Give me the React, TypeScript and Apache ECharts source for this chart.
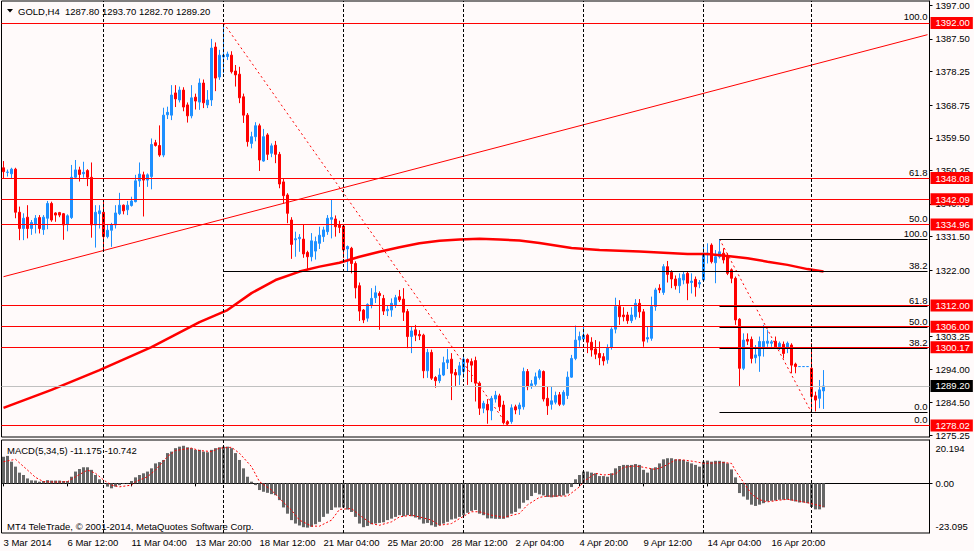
import React, { useEffect, useRef } from "react";
import * as echarts from "echarts";

const FONT = '"Liberation Sans", Arial, sans-serif';

// number of bar slots visible on the chart (including the empty right shift)
const SLOT_COUNT = 232;

// H4 candles: [open, close, low, high]
const candles: number[][] = [
  [1351.0, 1349.9, 1348.0, 1352.9], [1349.7, 1349.8, 1348.5, 1350.5], [1349.3, 1350.6, 1348.0, 1351.0], [1350.6, 1338.4, 1336.7, 1351.0],
  [1338.4, 1333.8, 1330.5, 1340.0], [1333.8, 1336.7, 1330.5, 1338.1], [1337.0, 1333.8, 1331.0, 1340.4], [1333.8, 1335.5, 1332.0, 1336.2],
  [1335.0, 1336.7, 1332.4, 1337.6], [1336.9, 1333.8, 1332.4, 1337.6], [1333.5, 1337.0, 1332.0, 1337.6], [1336.7, 1340.9, 1333.6, 1341.6],
  [1340.9, 1336.2, 1335.7, 1341.4], [1338.2, 1337.6, 1335.7, 1338.4], [1338.3, 1337.6, 1337.0, 1338.5], [1338.0, 1334.8, 1330.6, 1338.2],
  [1335.0, 1337.4, 1333.0, 1337.8], [1336.9, 1348.3, 1336.5, 1351.8], [1348.3, 1350.4, 1348.0, 1353.2], [1350.4, 1349.1, 1347.1, 1351.3],
  [1349.3, 1349.7, 1348.2, 1352.7], [1350.2, 1348.3, 1345.8, 1350.6], [1348.3, 1334.8, 1331.2, 1352.5], [1334.8, 1338.4, 1328.4, 1340.4],
  [1338.0, 1338.8, 1333.8, 1340.4], [1338.4, 1331.5, 1327.7, 1341.6], [1331.5, 1333.3, 1331.0, 1334.8], [1333.3, 1334.8, 1328.6, 1335.4],
  [1334.8, 1338.2, 1333.8, 1340.4], [1338.0, 1340.4, 1337.6, 1343.9], [1340.4, 1338.8, 1337.8, 1340.6], [1339.1, 1340.4, 1337.6, 1341.6],
  [1340.3, 1341.6, 1340.0, 1342.8], [1341.4, 1347.3, 1341.2, 1349.0], [1347.3, 1349.2, 1345.6, 1352.5], [1349.0, 1347.5, 1337.2, 1349.9],
  [1347.5, 1349.0, 1345.6, 1349.4], [1348.5, 1357.6, 1344.9, 1359.3], [1358.1, 1357.3, 1357.0, 1358.9], [1357.3, 1354.6, 1354.1, 1363.0],
  [1354.6, 1365.9, 1354.0, 1368.0], [1366.0, 1366.7, 1364.8, 1368.3], [1365.9, 1371.6, 1364.5, 1374.4], [1372.2, 1370.5, 1368.2, 1374.4],
  [1370.2, 1373.0, 1369.5, 1374.0], [1373.0, 1368.2, 1367.0, 1373.8], [1368.8, 1365.7, 1363.8, 1369.5], [1365.7, 1370.8, 1365.0, 1374.4],
  [1371.0, 1369.9, 1367.5, 1372.0], [1369.6, 1375.0, 1367.4, 1376.3], [1375.0, 1369.4, 1367.9, 1376.0], [1368.8, 1370.2, 1367.9, 1373.0],
  [1370.2, 1384.9, 1368.5, 1387.5], [1385.2, 1376.4, 1372.7, 1386.5], [1376.7, 1382.9, 1375.9, 1384.4], [1382.4, 1382.9, 1377.8, 1392.0],
  [1382.5, 1383.2, 1381.5, 1383.9], [1382.9, 1378.2, 1377.7, 1384.0], [1378.4, 1377.3, 1374.0, 1380.1], [1377.5, 1370.8, 1369.3, 1379.6],
  [1371.1, 1365.9, 1363.7, 1372.0], [1365.9, 1358.4, 1357.0, 1366.5], [1357.9, 1359.8, 1356.5, 1361.2], [1359.8, 1362.9, 1358.5, 1363.9],
  [1362.9, 1353.2, 1350.1, 1363.5], [1352.9, 1359.8, 1352.7, 1362.0], [1360.3, 1354.8, 1353.2, 1360.8], [1355.1, 1357.2, 1354.0, 1357.9],
  [1357.4, 1354.8, 1352.3, 1358.6], [1354.8, 1346.4, 1345.2, 1355.5], [1347.0, 1343.1, 1340.9, 1347.8], [1343.3, 1338.1, 1335.3, 1343.8],
  [1336.2, 1329.3, 1325.2, 1337.0], [1330.6, 1330.9, 1325.8, 1332.9], [1330.9, 1331.3, 1327.2, 1332.2], [1330.8, 1326.6, 1325.5, 1335.0],
  [1327.0, 1325.8, 1322.0, 1327.5], [1325.8, 1330.3, 1324.5, 1332.5], [1327.4, 1330.1, 1325.0, 1331.5], [1329.6, 1331.9, 1328.0, 1334.3],
  [1331.5, 1333.4, 1330.0, 1334.3], [1332.9, 1336.7, 1332.0, 1337.6], [1336.4, 1336.9, 1331.0, 1342.1], [1336.5, 1334.3, 1331.5, 1337.5],
  [1334.8, 1334.1, 1332.5, 1336.0], [1334.5, 1327.7, 1325.4, 1335.0], [1328.0, 1328.7, 1321.6, 1329.0], [1328.2, 1323.9, 1321.1, 1328.6],
  [1323.9, 1317.0, 1314.0, 1324.5], [1317.6, 1310.4, 1307.6, 1318.5], [1310.7, 1307.9, 1307.0, 1311.0], [1308.4, 1312.3, 1307.4, 1312.6],
  [1312.1, 1314.0, 1311.2, 1316.9], [1314.2, 1315.6, 1312.7, 1317.6], [1315.4, 1314.8, 1305.1, 1316.0], [1314.0, 1310.4, 1309.3, 1315.0],
  [1310.5, 1310.9, 1309.0, 1312.0], [1310.7, 1312.6, 1308.8, 1314.0], [1312.1, 1314.2, 1311.3, 1315.0], [1314.5, 1313.6, 1313.0, 1316.4],
  [1313.8, 1310.1, 1307.6, 1316.9], [1310.3, 1303.2, 1299.9, 1311.0], [1303.2, 1304.8, 1298.5, 1306.0], [1305.1, 1303.6, 1301.9, 1306.5],
  [1303.8, 1303.4, 1302.2, 1305.0], [1303.6, 1293.5, 1291.4, 1304.0], [1293.5, 1298.7, 1291.5, 1299.7], [1298.7, 1291.4, 1290.9, 1299.5],
  [1291.6, 1290.7, 1288.7, 1292.0], [1290.7, 1292.3, 1290.0, 1294.2], [1292.3, 1295.8, 1292.0, 1297.5], [1295.8, 1296.6, 1294.0, 1299.7],
  [1296.8, 1292.8, 1285.2, 1298.5], [1293.0, 1292.3, 1289.2, 1294.0], [1292.3, 1294.9, 1289.5, 1296.0], [1293.3, 1296.8, 1291.5, 1298.2],
  [1296.7, 1295.9, 1289.5, 1297.0], [1296.1, 1295.1, 1290.3, 1297.0], [1296.4, 1290.0, 1284.8, 1297.5], [1290.0, 1282.9, 1281.0, 1290.5],
  [1282.9, 1284.3, 1281.5, 1285.0], [1284.0, 1282.4, 1278.5, 1285.5], [1282.2, 1285.7, 1279.5, 1286.4], [1285.5, 1286.6, 1284.5, 1287.8],
  [1286.4, 1283.3, 1282.1, 1287.0], [1283.8, 1278.8, 1278.3, 1285.0], [1279.1, 1278.5, 1278.02, 1279.5], [1279.1, 1283.0, 1278.5, 1284.0],
  [1283.3, 1282.4, 1281.2, 1283.9], [1282.7, 1283.8, 1281.0, 1284.5], [1283.3, 1293.3, 1282.5, 1294.4], [1293.3, 1289.0, 1288.0, 1294.0],
  [1289.3, 1289.8, 1288.4, 1290.9], [1289.7, 1291.8, 1289.0, 1293.0], [1291.6, 1293.5, 1291.0, 1294.0], [1293.3, 1285.5, 1284.8, 1293.6],
  [1285.7, 1283.6, 1281.0, 1289.0], [1284.0, 1285.0, 1282.5, 1289.0], [1284.6, 1286.5, 1284.0, 1287.6], [1286.7, 1284.0, 1283.5, 1287.5],
  [1284.0, 1287.4, 1283.6, 1288.0], [1286.5, 1291.7, 1285.5, 1293.3], [1291.7, 1297.0, 1291.5, 1298.0], [1297.0, 1302.2, 1296.5, 1306.3],
  [1302.2, 1303.2, 1300.3, 1304.6], [1302.5, 1303.6, 1301.8, 1306.0], [1303.6, 1301.6, 1298.5, 1304.0], [1301.6, 1299.4, 1297.5, 1303.0],
  [1299.7, 1298.2, 1296.8, 1302.2], [1298.4, 1297.2, 1295.1, 1301.8], [1297.5, 1296.3, 1295.0, 1298.5], [1296.6, 1300.1, 1295.5, 1301.0],
  [1300.1, 1305.3, 1299.5, 1305.8], [1305.3, 1311.7, 1304.1, 1314.2], [1311.7, 1308.8, 1306.5, 1313.5], [1309.3, 1308.8, 1307.5, 1311.5],
  [1309.3, 1307.7, 1306.8, 1310.2], [1307.7, 1309.3, 1307.0, 1311.5], [1308.8, 1312.6, 1308.0, 1313.8], [1312.6, 1310.2, 1308.5, 1313.8],
  [1310.2, 1301.9, 1300.3, 1311.0], [1302.5, 1302.9, 1301.5, 1306.0], [1302.7, 1311.7, 1302.0, 1314.5], [1311.7, 1316.4, 1310.5, 1317.0],
  [1316.9, 1316.4, 1315.5, 1318.0], [1315.7, 1323.0, 1315.0, 1323.7], [1323.0, 1320.8, 1318.5, 1324.6], [1321.4, 1319.5, 1316.9, 1322.0],
  [1319.5, 1317.6, 1316.5, 1320.5], [1317.6, 1319.7, 1315.5, 1321.1], [1319.2, 1320.8, 1318.0, 1321.5], [1321.1, 1318.3, 1313.5, 1321.6],
  [1318.5, 1318.9, 1315.4, 1321.1], [1319.4, 1317.3, 1314.5, 1320.2], [1318.1, 1318.5, 1316.9, 1319.2], [1319.2, 1326.8, 1318.7, 1329.1],
  [1326.3, 1326.8, 1323.9, 1329.6], [1329.1, 1324.4, 1323.9, 1329.6], [1324.1, 1325.8, 1318.3, 1327.7], [1325.8, 1327.2, 1325.3, 1330.8],
  [1326.8, 1324.9, 1323.9, 1328.2], [1325.8, 1321.1, 1320.6, 1326.8], [1322.1, 1319.7, 1318.3, 1322.5], [1319.7, 1307.9, 1306.5, 1320.2],
  [1308.1, 1294.2, 1289.2, 1308.4], [1294.2, 1302.2, 1293.7, 1304.1], [1302.4, 1301.9, 1300.8, 1304.1], [1302.4, 1297.0, 1295.6, 1303.2],
  [1297.2, 1298.0, 1295.6, 1300.8], [1297.7, 1301.8, 1293.2, 1303.2], [1300.3, 1301.8, 1297.5, 1306.5], [1301.3, 1301.9, 1300.3, 1305.1],
  [1301.3, 1301.7, 1300.3, 1302.2], [1301.9, 1300.3, 1299.9, 1303.2], [1300.3, 1301.3, 1299.4, 1301.8], [1301.0, 1298.4, 1297.0, 1301.8],
  [1299.9, 1301.3, 1298.5, 1301.8], [1300.8, 1295.1, 1292.8, 1301.3], [1295.4, 1294.7, 1292.8, 1295.8], [1294.7, 1294.7, 1294.7, 1294.7],
  [1294.7, 1294.7, 1294.7, 1294.7], [1294.7, 1294.7, 1294.7, 1294.7], [1294.2, 1286.2, 1281.7, 1301.3], [1286.4, 1285.2, 1282.0, 1287.6],
  [1285.7, 1288.1, 1282.9, 1290.9], [1287.8, 1289.2, 1282.7, 1293.7],
];

// moving average, read at points: [bar index, price]
const maPoints: number[][] = [
  [0, 1283.0], [12, 1288.1], [24, 1293.7], [37, 1300.2], [49, 1307.3], [56, 1310.7], [62, 1315.5], [68, 1319.2],
  [74, 1321.6], [79, 1323.0], [84, 1324.1], [89, 1325.8], [94, 1327.2], [99, 1328.5], [104, 1329.6], [109, 1330.3],
  [114, 1330.7], [119, 1330.9], [124, 1330.7], [129, 1330.4], [134, 1329.7], [142, 1328.3], [149, 1327.7], [159, 1327.3],
  [171, 1326.6], [176, 1326.6], [181, 1326.0], [186, 1325.4], [191, 1324.4], [196, 1323.5], [201, 1322.3], [205, 1321.6],
];

// MACD(5,34,5) histogram per bar
const macdHist: number[] = [
  12.4, 12.8, 10.1, 7.8, 5.0, 3.9, 2.3, 1.4, 1.3, 0.8,
  1.1, 1.5, 1.3, 1.3, 1.3, 1.1, 1.1, 3.1, 5.5, 6.7,
  7.5, 7.5, 6.3, 3.9, 1.9, -0.3, -1.5, -2.3, -1.5, -0.8,
  -0.3, 0.2, 1.1, 2.8, 3.9, 4.7, 5.5, 7.0, 9.3, 9.9,
  10.9, 14.1, 14.8, 16.4, 17.1, 17.5, 16.8, 16.4, 15.6, 15.6,
  14.8, 14.5, 15.6, 16.4, 16.8, 17.1, 17.1, 16.4, 14.1, 10.9,
  7.0, 3.1, 0.8, -0.8, -3.1, -3.9, -4.4, -5.0, -5.5, -7.8,
  -11.2, -14.1, -17.1, -18.7, -19.6, -20.4, -20.6, -20.2, -19.0, -17.9,
  -15.6, -14.1, -12.4, -11.2, -11.2, -11.2, -12.2, -13.3, -15.6, -18.7,
  -20.4, -19.8, -19.0, -18.7, -18.4, -18.1, -17.1, -16.4, -15.6, -14.8,
  -15.3, -14.8, -15.3, -15.9, -16.8, -18.7, -18.4, -19.5, -20.2, -19.5,
  -18.7, -17.9, -16.8, -16.4, -15.6, -14.8, -13.7, -12.8, -12.4, -14.1,
  -14.8, -16.3, -16.3, -16.5, -16.5, -16.5, -15.9, -14.1, -13.3, -11.7,
  -9.0, -7.8, -5.9, -4.4, -5.1, -5.6, -6.3, -6.5, -6.3, -5.9,
  -5.6, -4.7, -1.7, 1.9, 3.9, 5.5, 5.5, 5.0, 4.7, 3.4,
  3.4, 3.1, 4.7, 7.0, 8.1, 8.6, 8.6, 8.6, 9.0, 8.6,
  6.3, 5.0, 7.0, 7.5, 9.3, 11.2, 11.7, 11.7, 11.2, 11.2,
  10.9, 10.1, 9.3, 8.6, 7.8, 10.1, 10.6, 10.1, 10.5, 10.5,
  10.1, 9.3, 6.5, 2.8, -4.5, -6.1, -7.6, -9.9, -10.5, -9.9,
  -9.2, -8.4, -8.1, -8.0, -7.6, -7.6, -7.6, -8.0, -8.4, -8.9,
  -8.9, -9.2, -11.0, -12.1, -12.1, -11.175,
];

// MACD signal line, read at points: [bar index, value]
const macdSignal: number[][] = [
  [0, 10.1], [3, 11.2], [6, 6.2], [8, 2.8], [10, 0.8], [13, 0.6], [16, 0.8], [18, 3.1], [21, 6.2], [23, 4.7],
  [25, 1.6], [27, -0.8], [29, -1.6], [32, -0.8], [33, 0.8], [36, 3.1], [38, 6.2], [41, 12.5], [43, 15.3], [47, 16.4],
  [49, 15.3], [52, 14.8], [54, 16.4], [57, 16.8], [59, 14.0], [62, 7.8], [64, 0.8], [67, -3.1], [69, -7.0], [72, -12.5],
  [74, -17.1], [77, -19.9], [79, -19.9], [82, -17.1], [84, -12.1], [87, -11.7], [89, -14.8], [92, -18.7], [94, -19.5], [97, -17.9],
  [99, -15.6], [102, -14.8], [104, -15.6], [107, -17.1], [109, -19.5], [112, -18.7], [114, -16.4], [117, -13.2], [119, -13.2], [122, -14.8],
  [125, -15.8], [129, -14.0], [131, -10.0], [134, -6.5], [136, -5.9], [141, -5.9], [144, -1.6], [145, 0.8], [148, 4.7], [150, 3.9],
  [153, 4.4], [155, 7.5], [158, 8.1], [160, 7.5], [163, 6.5], [165, 7.8], [168, 10.9], [170, 10.9], [173, 10.1], [175, 9.3],
  [178, 9.5], [180, 9.7], [182, 9.3], [183, 5.9], [185, 0.5], [187, -5.0], [189, -7.6], [191, -8.6], [194, -7.8], [196, -7.4],
  [199, -8.3], [201, -9.0], [203, -9.9], [205, -10.742],
];

// rising trend line: [bar index, price]
const trendLine: number[][] = [[0, 1320.15], [231, 1388.69]];

// Fibonacci retracements: anchors [bar index, price] and levels
const fib1Anchor: number[][] = [[55, 1392.0], [126, 1278.02]];
const fib1Levels = [
  { pct: "100.0", price: 1392.0 },
  { pct: "61.8", price: 1348.08 },
  { pct: "50.0", price: 1334.96 },
  { pct: "38.2", price: 1321.56 },
  { pct: "0.0", price: 1278.02 },
];
const fib2Anchor: number[][] = [[179, 1330.8], [202, 1281.7]];
const fib2Levels = [
  { pct: "100.0", price: 1330.8 },
  { pct: "61.8", price: 1311.75 },
  { pct: "50.0", price: 1305.75 },
  { pct: "38.2", price: 1299.9 },
  { pct: "0.0", price: 1281.7 },
];

// horizontal red lines and the bid line
const redLevels: number[] = [1392.0, 1348.08, 1342.09, 1334.96, 1312.0, 1306.0, 1300.17, 1278.02];
const bidPrice = 1289.2;

// week-start vertical grid lines (bar index)
const weekStarts: number[] = [25, 55, 85, 115, 145, 175, 202];

// time axis labels: [bar index, text]
const timeTicks: [number, string][] = [
  [0, "3 Mar 2014"], [16, "6 Mar 12:00"], [32, "11 Mar 04:00"], [48, "13 Mar 20:00"], [64, "18 Mar 12:00"],
  [80, "21 Mar 04:00"], [96, "25 Mar 20:00"], [112, "28 Mar 12:00"], [128, "2 Apr 04:00"], [144, "4 Apr 20:00"],
  [160, "9 Apr 12:00"], [176, "14 Apr 04:00"], [192, "16 Apr 20:00"],
];

// price axis tick labels (1312.75 is fully hidden by the 1312.00 box in the reference)
const priceTicks: number[] = [1397.0, 1387.5, 1378.25, 1368.75, 1359.5, 1350.25, 1340.75, 1331.5, 1322.0, 1303.25, 1294.0, 1284.5, 1275.25];
const priceMin = 1274.75;
const priceMax = 1398.23;

// MACD axis tick labels (top = max, bottom = min)
const macdTicks: number[] = [20.194, 0, -23.095];

export default function App() {
  const ref = useRef<HTMLDivElement>(null);

  useEffect(() => {
    document.body.style.margin = "0";
    if (!ref.current) return;
    const chart = echarts.init(ref.current, undefined, { renderer: "svg" });

    const cats = Array.from({ length: SLOT_COUNT }, (_, i) => String(i));
    const lastSlot = SLOT_COUNT - 1;
    const tickMap = new Map<number, string>(timeTicks);
    const last = candles[candles.length - 1];
    const fs = 9.5;

    const fibMarkLine = (anchor: number[][], levels: { pct: string; price: number }[]) => ({
      silent: true,
      symbol: ["none", "none"],
      animation: false,
      data: levels.map((l) => [
        {
          coord: [anchor[0][0], l.price],
          lineStyle: { color: "#000", width: 1, type: "solid" },
          label: {
            show: true,
            position: "insideEndTop",
            formatter: l.pct,
            color: "#000",
            fontSize: fs,
            fontFamily: FONT,
            distance: [0, 1],
          },
        },
        { coord: [lastSlot, l.price] },
      ]),
    });

    const weekMarkLine = {
      silent: true,
      symbol: ["none", "none"],
      animation: false,
      label: { show: false },
      lineStyle: { color: "#000", width: 1, type: [3, 2] },
      data: weekStarts.map((i) => ({ xAxis: i })),
    };

    const redLabel = {
      show: true,
      position: "end",
      distance: 1,
      color: "#fff",
      backgroundColor: "#ff0000",
      padding: [1, 3, 0, 5],
      lineHeight: 11,
      fontSize: fs,
      fontFamily: FONT,
    };

    const gridRight = 44.5;

    const option: any = {
      animation: false,
      backgroundColor: "#fffafa",
      textStyle: { fontFamily: FONT },
      grid: [
        { left: 1.5, right: gridRight, top: 1, height: 436, show: true, borderColor: "#000", borderWidth: 1, backgroundColor: "#fffafa" },
        { left: 1.5, right: gridRight, top: 440, height: 93, show: true, borderColor: "#000", borderWidth: 1, backgroundColor: "#fffafa" },
      ],
      xAxis: [
        {
          type: "category",
          gridIndex: 0,
          data: cats,
          boundaryGap: true,
          axisLine: { show: false },
          axisTick: { show: false },
          axisLabel: { show: false },
          splitLine: { show: false },
        },
        {
          type: "category",
          gridIndex: 1,
          data: cats,
          boundaryGap: true,
          axisLine: { show: true, lineStyle: { color: "#000", width: 1 } },
          axisTick: {
            show: true,
            alignWithLabel: true,
            length: 3,
            interval: (i: number) => tickMap.has(i),
            lineStyle: { color: "#000" },
          },
          axisLabel: {
            interval: (i: number) => tickMap.has(i),
            formatter: (v: string) => tickMap.get(Number(v)) ?? "",
            align: "left",
            margin: 4,
            fontSize: fs,
            color: "#000",
            fontFamily: FONT,
          },
          splitLine: { show: false },
        },
      ],
      yAxis: [
        {
          type: "value",
          gridIndex: 0,
          position: "right",
          min: priceMin,
          max: priceMax,
          splitLine: { show: false },
          axisLine: { show: true, lineStyle: { color: "#000" } },
          axisTick: { show: true, length: 3, customValues: priceTicks, lineStyle: { color: "#000" } },
          axisLabel: {
            customValues: priceTicks,
            formatter: (v: number) => v.toFixed(2),
            margin: 6,
            fontSize: fs,
            color: "#000",
            fontFamily: FONT,
          },
        },
        {
          type: "value",
          gridIndex: 1,
          position: "right",
          min: macdTicks[2],
          max: macdTicks[0],
          splitLine: { show: false },
          axisLine: { show: true, lineStyle: { color: "#000" } },
          axisTick: { show: true, length: 3, customValues: [macdTicks[1]], lineStyle: { color: "#000" } },
          axisLabel: {
            customValues: macdTicks,
            formatter: (v: number) =>
              v === macdTicks[0] ? `{t|${v.toFixed(3)}}` : v === macdTicks[2] ? `{b|${v.toFixed(3)}}` : `{m|${v.toFixed(2)}}`,
            margin: 6,
            fontSize: fs,
            color: "#000",
            fontFamily: FONT,
            rich: {
              t: { padding: [16, 0, 0, 0], fontSize: fs, fontFamily: FONT, color: "#000" },
              b: { padding: [0, 0, 14, 0], fontSize: fs, fontFamily: FONT, color: "#000" },
              m: { fontSize: fs, fontFamily: FONT, color: "#000" },
            },
          },
        },
      ],
      series: [
        {
          name: "weeks",
          type: "line",
          xAxisIndex: 0,
          yAxisIndex: 0,
          data: [[0, bidPrice]],
          symbol: "none",
          lineStyle: { opacity: 0 },
          silent: true,
          z: 1,
          markLine: weekMarkLine,
        },
        {
          name: "fib1",
          type: "line",
          xAxisIndex: 0,
          yAxisIndex: 0,
          data: fib1Anchor,
          symbol: "none",
          silent: true,
          lineStyle: { color: "#ff0000", width: 1, type: [2, 3] },
          z: 1,
          markLine: fibMarkLine(fib1Anchor, fib1Levels),
        },
        {
          name: "fib2",
          type: "line",
          xAxisIndex: 0,
          yAxisIndex: 0,
          data: fib2Anchor,
          symbol: "none",
          silent: true,
          lineStyle: { color: "#ff0000", width: 1, type: [2, 3] },
          z: 1,
          markLine: fibMarkLine(fib2Anchor, fib2Levels),
        },
        {
          name: "GOLD",
          type: "candlestick",
          xAxisIndex: 0,
          yAxisIndex: 0,
          data: candles,
          barWidth: 2,
          z: 2,
          itemStyle: {
            color: "#1e90ff",
            color0: "#ff0000",
            borderColor: "#1e90ff",
            borderColor0: "#ff0000",
            borderColorDoji: "#1e90ff",
            borderWidth: 1,
          },
        },
        {
          name: "MA",
          type: "line",
          xAxisIndex: 0,
          yAxisIndex: 0,
          data: maPoints,
          symbol: "none",
          silent: true,
          lineStyle: { color: "#ff0000", width: 2.5 },
          z: 3,
        },
        {
          name: "trend",
          type: "line",
          xAxisIndex: 0,
          yAxisIndex: 0,
          data: trendLine,
          symbol: "none",
          silent: true,
          lineStyle: { color: "#ff0000", width: 1 },
          z: 4,
          markLine: {
            silent: true,
            symbol: ["none", "none"],
            animation: false,
            data: [
              {
                yAxis: bidPrice,
                lineStyle: { color: "#c0c0c0", width: 1, type: "solid" },
                label: { ...redLabel, backgroundColor: "#000", formatter: bidPrice.toFixed(2) },
              },
              ...redLevels.map((v) => ({
                yAxis: v,
                lineStyle: { color: "#ff0000", width: 1, type: "solid" },
                label: { ...redLabel, formatter: v.toFixed(2) },
              })),
            ],
          },
        },
        {
          name: "weeks2",
          type: "line",
          xAxisIndex: 1,
          yAxisIndex: 1,
          data: [[0, 0]],
          symbol: "none",
          lineStyle: { opacity: 0 },
          silent: true,
          z: 1,
          markLine: weekMarkLine,
        },
        {
          name: "MACD",
          type: "bar",
          xAxisIndex: 1,
          yAxisIndex: 1,
          data: macdHist,
          barWidth: 3,
          silent: true,
          itemStyle: { color: "#666666" },
          z: 2,
        },
        {
          name: "Signal",
          type: "line",
          xAxisIndex: 1,
          yAxisIndex: 1,
          data: macdSignal,
          symbol: "none",
          silent: true,
          lineStyle: { color: "#ff0000", width: 1, type: [2, 2] },
          z: 3,
        },
      ],
      graphic: [
        {
          type: "polygon",
          shape: { points: [[7, 9], [13, 9], [10, 12.5]] },
          style: { fill: "#000" },
          z: 100,
        },
        {
          type: "text",
          x: 18,
          y: 11,
          z: 100,
          style: {
            text: `GOLD,H4  ${last[0].toFixed(2)} ${last[3].toFixed(2)} ${last[2].toFixed(2)} ${last[1].toFixed(2)}`,
            fill: "#000",
            font: `${fs}px ${FONT}`,
            verticalAlign: "middle",
          },
        },
        {
          type: "text",
          x: 7,
          y: 450,
          z: 100,
          style: {
            text: `MACD(5,34,5) ${macdHist[macdHist.length - 1].toFixed(3)} ${macdSignal[macdSignal.length - 1][1].toFixed(3)}`,
            fill: "#000",
            font: `${fs}px ${FONT}`,
            verticalAlign: "middle",
          },
        },
        {
          type: "text",
          x: 7,
          y: 526,
          z: 100,
          style: {
            text: "MT4 TeleTrade, © 2001-2014, MetaQuotes Software Corp.",
            fill: "#000",
            font: `${fs}px ${FONT}`,
            verticalAlign: "middle",
          },
        },
      ],
    };

    chart.setOption(option);
    return () => chart.dispose();
  }, []);

  return <div ref={ref} style={{ width: 974, height: 551, background: "#fffafa" }} />;
}
